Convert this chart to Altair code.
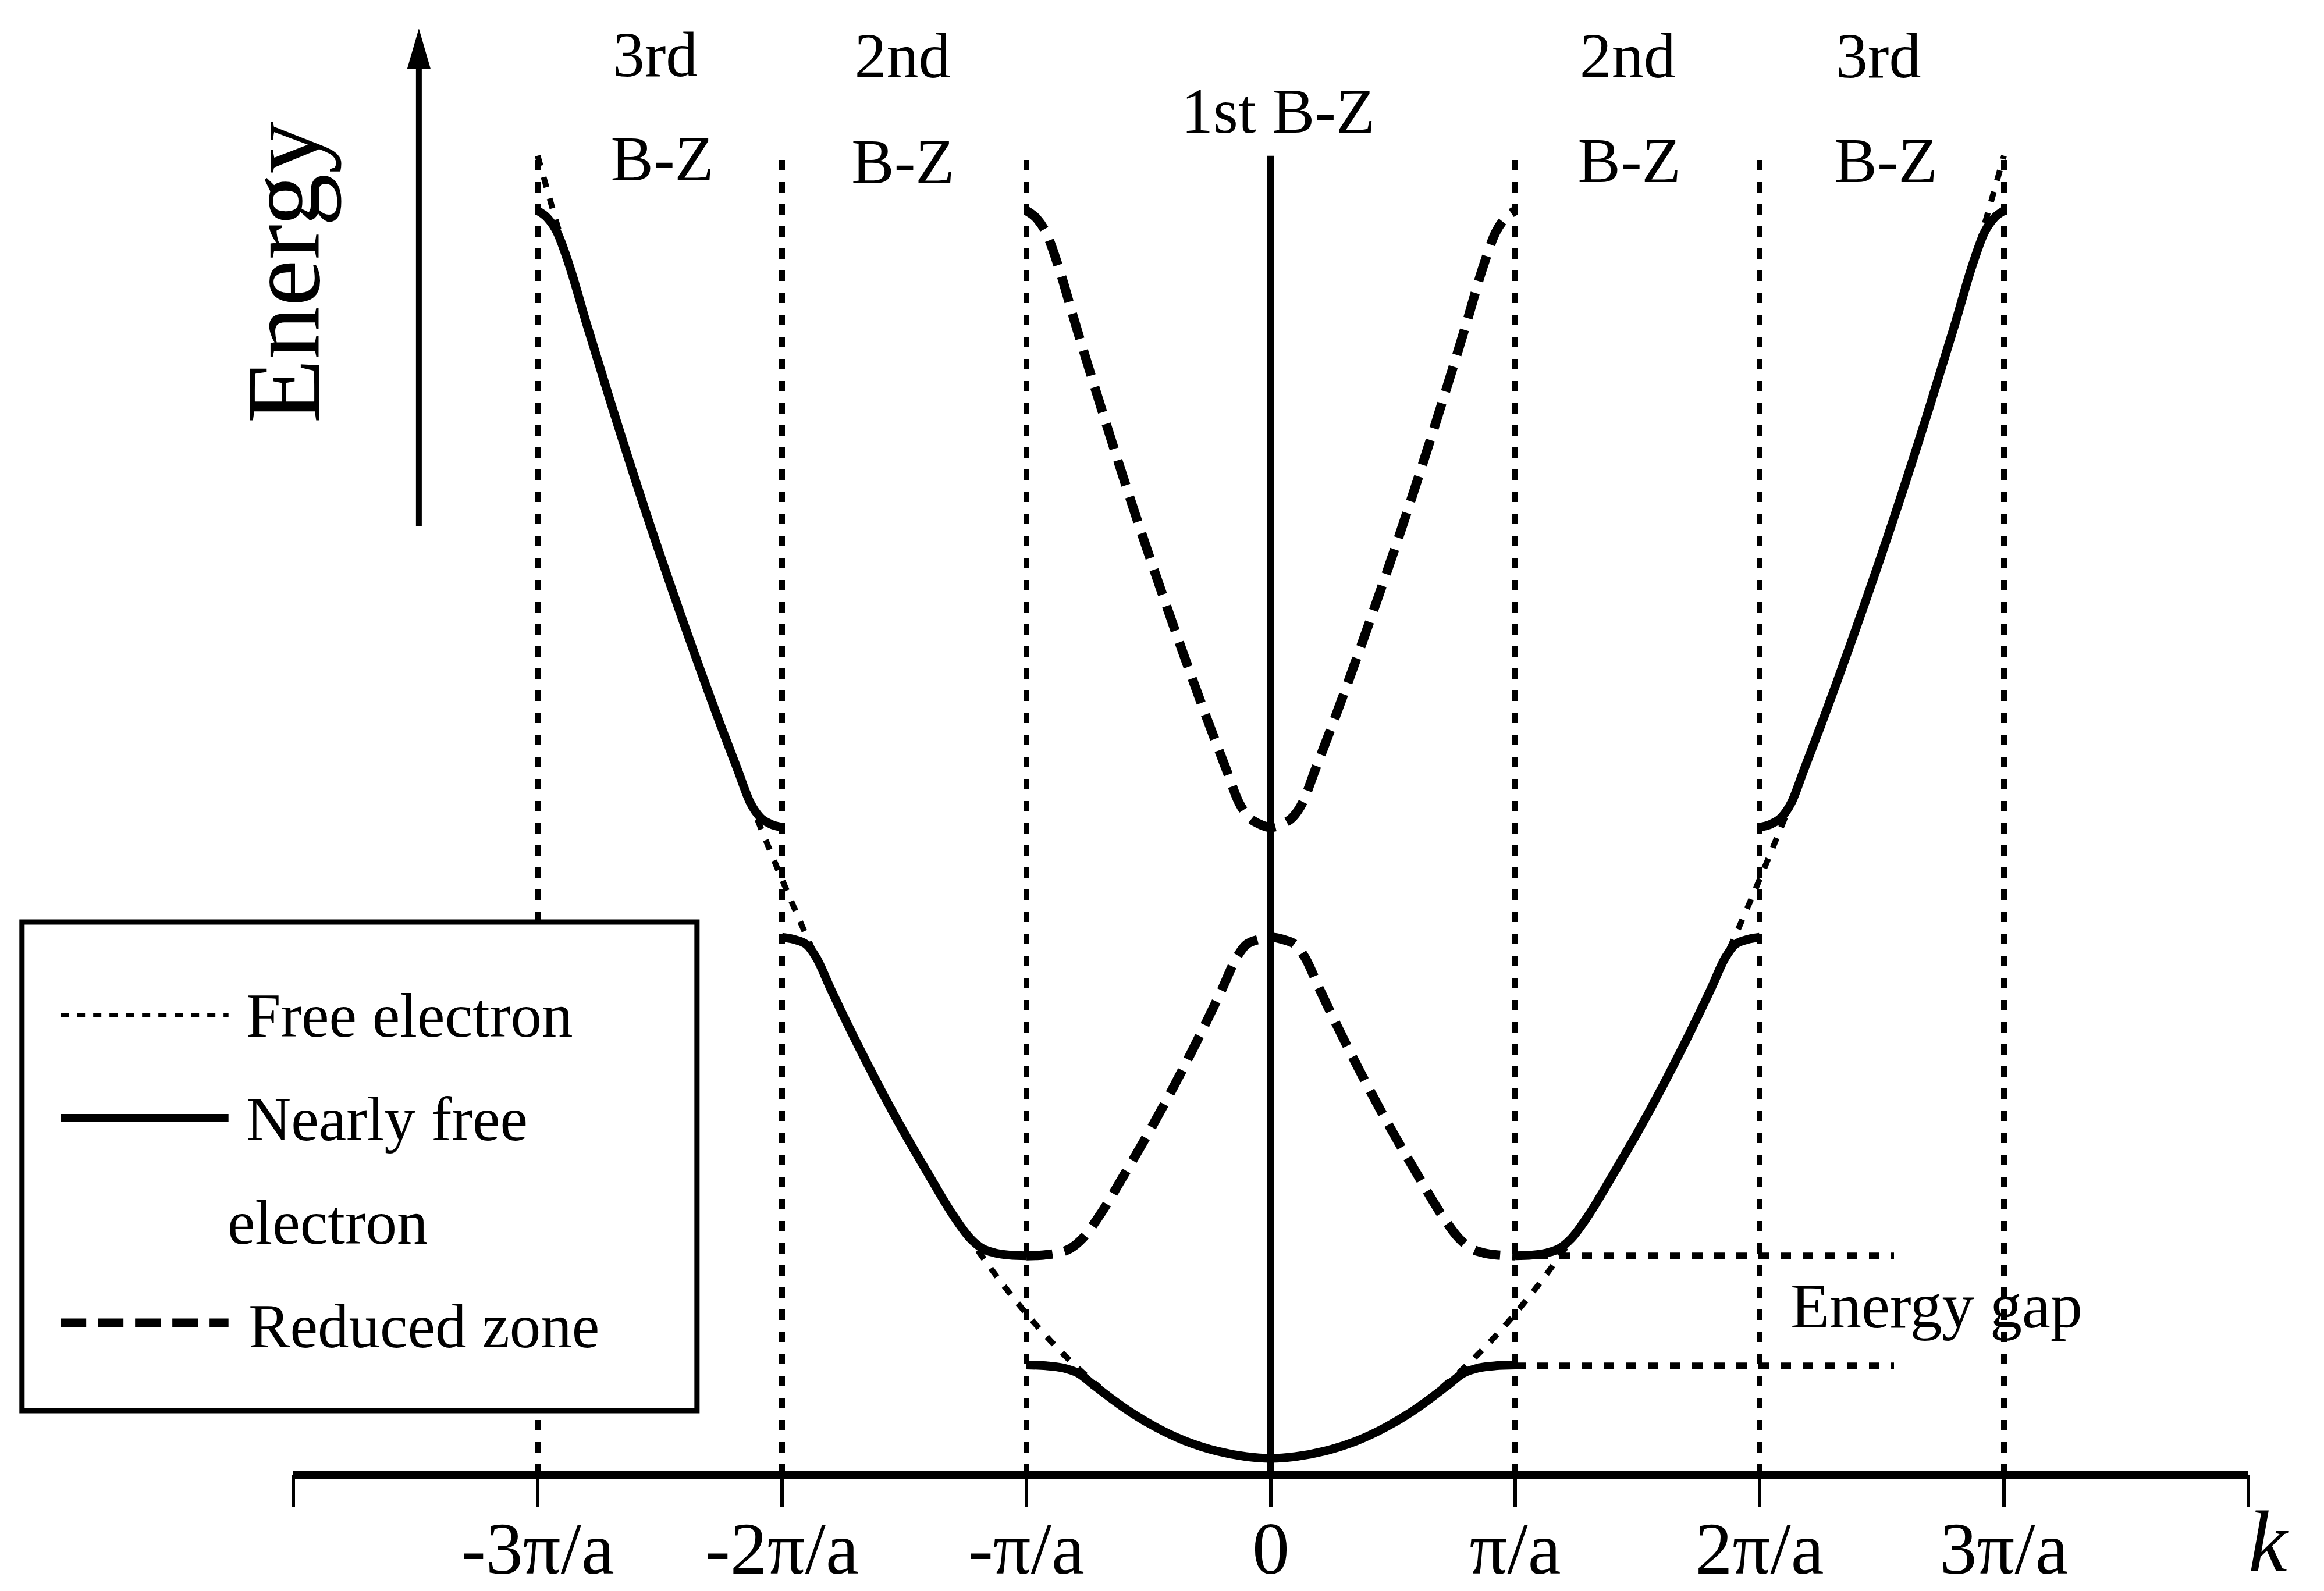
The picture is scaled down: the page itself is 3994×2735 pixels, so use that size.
import altair as alt
import pandas as pd

# ---------------- data (k in units of pi/a, E in units of E_free(pi/a)) ----------------
x_ticks = [-4, -3, -2, -1, 0, 1, 2, 3, 4]
x_tick_labels = ["", "-3π/a", "-2π/a", "-π/a", "0", "π/a", "2π/a", "3π/a", ""]

zone_boundaries = [-3, -2, -1, 1, 2, 3]
boundary_top = 9.0
axis_bottom = -0.1125
tick_end = -0.334
tick_label_E = -0.796

# free electron parabola, visible parts near the zone boundaries (right half, mirrored)
free_k_near_1 = [0.7, 0.8, 0.9, 1.0, 1.1, 1.2, 1.3]
free_E_near_1 = [0.49, 0.64, 0.81, 1.0, 1.21, 1.44, 1.69]
free_k_near_2 = [1.8, 1.9, 2.0, 2.1, 2.2]
free_E_near_2 = [3.24, 3.61, 4.0, 4.41, 4.84]
free_k_near_3 = [2.82, 2.88, 2.94, 3.0]
free_E_near_3 = [7.95, 8.29, 8.64, 9.0]

# nearly free electron, extended zone
band1_k = [-1.0, -0.92, -0.85, -0.79, -0.72, -0.65, -0.57, -0.47, -0.35, -0.22, -0.1, 0.0,
           0.1, 0.22, 0.35, 0.47, 0.57, 0.65, 0.72, 0.79, 0.85, 0.92, 1.0]
band1_E = [0.645, 0.64, 0.625, 0.59, 0.5, 0.41, 0.315, 0.215, 0.12, 0.05, 0.012, 0.0,
           0.012, 0.05, 0.12, 0.215, 0.315, 0.41, 0.5, 0.59, 0.625, 0.64, 0.645]
band2_k = [1.0, 1.07, 1.13, 1.18, 1.23, 1.3, 1.4, 1.5, 1.6, 1.7, 1.8, 1.86, 1.9, 1.95, 2.0]
band2_E = [1.40, 1.405, 1.42, 1.45, 1.52, 1.68, 1.96, 2.25, 2.56, 2.89, 3.24, 3.46, 3.55, 3.585, 3.6]
band3_k = [2.0, 2.05, 2.09, 2.13, 2.18, 2.25, 2.4, 2.55, 2.7, 2.8, 2.87, 2.92, 2.96, 3.0]
band3_E = [4.36, 4.385, 4.43, 4.53, 4.75, 5.06, 5.76, 6.50, 7.29, 7.84, 8.24, 8.47, 8.57, 8.62]

# reduced zone (dashed)
reduced2_k = [-1.0, -0.93, -0.87, -0.82, -0.77, -0.7, -0.6, -0.5, -0.4, -0.3, -0.2, -0.14, -0.1, -0.05,
              0.0, 0.05, 0.1, 0.14, 0.2, 0.3, 0.4, 0.5, 0.6, 0.7, 0.77, 0.82, 0.87, 0.93, 1.0]
reduced2_E = [1.40, 1.405, 1.42, 1.45, 1.52, 1.68, 1.96, 2.25, 2.56, 2.89, 3.24, 3.46, 3.55, 3.585,
              3.6, 3.585, 3.55, 3.46, 3.24, 2.89, 2.56, 2.25, 1.96, 1.68, 1.52, 1.45, 1.42, 1.405, 1.40]
reduced3_k = [-1.0, -0.96, -0.92, -0.87, -0.8, -0.7, -0.55, -0.4, -0.25, -0.18, -0.13, -0.09, -0.05,
              0.0, 0.05, 0.09, 0.13, 0.18, 0.25, 0.4, 0.55, 0.7, 0.8, 0.87, 0.92, 0.96, 1.0]
reduced3_E = [8.62, 8.57, 8.47, 8.24, 7.84, 7.29, 6.50, 5.76, 5.06, 4.75, 4.53, 4.43, 4.385,
              4.36, 4.385, 4.43, 4.53, 4.75, 5.06, 5.76, 6.50, 7.29, 7.84, 8.24, 8.47, 8.57, 8.62]

# energy gap guide lines
gap_levels = [0.64, 1.40]
gap_k_start = 1.0
gap_k_end = 2.55

# zone labels
zone_texts = ["3rd", "B-Z", "2nd", "B-Z", "1st B-Z", "2nd", "B-Z", "3rd", "B-Z"]
zone_text_k = [-2.519, -2.49, -1.507, -1.505, 0.03, 1.46, 1.467, 2.486, 2.517]
zone_text_E = [9.55, 8.83, 9.54, 8.81, 9.16, 9.54, 8.82, 9.54, 8.82]

# legend
legend_box = {"k1": -5.11, "k2": -2.348, "E1": 0.33, "E2": 3.706}
legend_line_k1 = -4.952
legend_line_k2 = -4.265
legend_line_E = [3.063, 2.351, 0.936]
legend_texts = ["Free electron", "Nearly free", "electron", "Reduced zone"]
legend_text_k = [-4.193, -4.193, -4.269, -4.183]
legend_text_E = [2.914, 2.199, 1.483, 0.768]

# energy arrow & labels
arrow_k = -3.486
arrow_E_bottom = 6.443
arrow_E_top = 9.62
arrow_head_E = 9.74
energy_label = ("Energy", -3.895, 8.195)
gap_label = ("Energy gap", 2.126, 0.904)
k_label = ("k", 4.079, -0.78)

# ---------------- build tables ----------------
def mirror_rows(ks, es, seg):
    rows = [{"k": k, "E": e, "seg": seg + "_R"} for k, e in zip(ks, es)]
    rows += [{"k": -k, "E": e, "seg": seg + "_L"} for k, e in zip(ks, es)]
    return rows

free_df = pd.DataFrame(
    mirror_rows(free_k_near_1, free_E_near_1, "f1")
    + mirror_rows(free_k_near_2, free_E_near_2, "f2")
    + mirror_rows(free_k_near_3, free_E_near_3, "f3")
)
solid_df = pd.DataFrame(
    [{"k": k, "E": e, "seg": "b1"} for k, e in zip(band1_k, band1_E)]
    + mirror_rows(band2_k, band2_E, "b2")
    + mirror_rows(band3_k, band3_E, "b3")
)
reduced_df = pd.DataFrame(
    [{"k": k, "E": e, "seg": "r2"} for k, e in zip(reduced2_k, reduced2_E)]
    + [{"k": k, "E": e, "seg": "r3"} for k, e in zip(reduced3_k, reduced3_E)]
)
bound_df = pd.DataFrame({"k": zone_boundaries, "lo": [axis_bottom] * len(zone_boundaries),
                         "hi": [boundary_top] * len(zone_boundaries)})
center_df = pd.DataFrame({"k": [0], "lo": [axis_bottom], "hi": [boundary_top]})
gap_df = pd.DataFrame({"k1": [gap_k_start] * 2, "k2": [gap_k_end] * 2, "E": gap_levels})
zone_df = pd.DataFrame({"t": zone_texts, "k": zone_text_k, "E": zone_text_E})
box_df = pd.DataFrame([legend_box])
leg_lines = [pd.DataFrame({"k1": [legend_line_k1], "k2": [legend_line_k2], "E": [e]}) for e in legend_line_E]
leg_text_df = pd.DataFrame({"t": legend_texts, "k": legend_text_k, "E": legend_text_E})
arrow_df = pd.DataFrame({"k": [arrow_k], "lo": [arrow_E_bottom], "hi": [arrow_E_top]})
head_df = pd.DataFrame({"k": [arrow_k], "E": [arrow_head_E]})
energy_df = pd.DataFrame({"t": [energy_label[0]], "k": [energy_label[1]], "E": [energy_label[2]]})
gaplab_df = pd.DataFrame({"t": [gap_label[0]], "k": [gap_label[1]], "E": [gap_label[2]]})
klab_df = pd.DataFrame({"t": [k_label[0]], "k": [k_label[1]], "E": [k_label[2]]})
axis_line_df = pd.DataFrame({"k1": [x_ticks[0]], "k2": [x_ticks[-1]], "E": [axis_bottom]})
tick_df = pd.DataFrame({"k": x_ticks, "lo": [tick_end] * len(x_ticks), "hi": [axis_bottom] * len(x_ticks),
                        "lab": x_tick_labels, "labE": [tick_label_E] * len(x_ticks)})

# ---------------- scales ----------------
xs = alt.Scale(domain=[-4, 4], nice=False, zero=False)
ys = alt.Scale(domain=[axis_bottom, 10.076], nice=False, zero=False)

def X(field):
    return alt.X(field, type="quantitative", scale=xs, axis=None)

def Y(field):
    return alt.Y(field, type="quantitative", scale=ys, axis=None)

FONT = "Liberation Serif"
DOT = [18, 20]

bounds = alt.Chart(bound_df).mark_rule(color="black", strokeWidth=10, strokeDash=DOT).encode(
    x=X("k"), y=Y("lo"), y2="hi")
center = alt.Chart(center_df).mark_rule(color="black", strokeWidth=12).encode(
    x=X("k"), y=Y("lo"), y2="hi")
free = alt.Chart(free_df).mark_line(color="black", strokeWidth=10, strokeDash=DOT,
                                    interpolate="monotone").encode(
    x=X("k"), y=Y("E"), detail="seg")
solid = alt.Chart(solid_df).mark_line(color="black", strokeWidth=15,
                                      interpolate="monotone").encode(
    x=X("k"), y=Y("E"), detail="seg")
reduced = alt.Chart(reduced_df).mark_line(color="black", strokeWidth=16, strokeDash=[45, 21],
                                          interpolate="monotone").encode(
    x=X("k"), y=Y("E"), detail="seg")
gaps = alt.Chart(gap_df).mark_rule(color="black", strokeWidth=11, strokeDash=DOT).encode(
    x=X("k1"), x2="k2", y=Y("E"))
axis_line = alt.Chart(axis_line_df).mark_rule(color="black", strokeWidth=14).encode(
    x=X("k1"), x2="k2", y=Y("E"))
ticks = alt.Chart(tick_df).mark_rule(color="black", strokeWidth=6).encode(
    x=X("k"), y=Y("lo"), y2="hi")
tick_labels = alt.Chart(tick_df).mark_text(font=FONT, fontSize=128, color="black", align="center",
                                           baseline="alphabetic").encode(
    x=X("k"), y=Y("labE"), text="lab")
zones = alt.Chart(zone_df).mark_text(font=FONT, fontSize=110, color="black", align="center",
                                     baseline="alphabetic").encode(
    x=X("k"), y=Y("E"), text="t")
box = alt.Chart(box_df).mark_rect(fill="white", stroke="black", strokeWidth=9).encode(
    x=X("k1"), x2="k2", y=Y("E1"), y2="E2")
leg1 = alt.Chart(leg_lines[0]).mark_rule(color="black", strokeWidth=8, strokeDash=[14, 14]).encode(
    x=X("k1"), x2="k2", y=Y("E"))
leg2 = alt.Chart(leg_lines[1]).mark_rule(color="black", strokeWidth=14).encode(
    x=X("k1"), x2="k2", y=Y("E"))
leg3 = alt.Chart(leg_lines[2]).mark_rule(color="black", strokeWidth=15, strokeDash=[44, 20]).encode(
    x=X("k1"), x2="k2", y=Y("E"))
leg_text = alt.Chart(leg_text_df).mark_text(font=FONT, fontSize=107, color="black", align="left",
                                            baseline="alphabetic").encode(
    x=X("k"), y=Y("E"), text="t")
arrow = alt.Chart(arrow_df).mark_rule(color="black", strokeWidth=10).encode(
    x=X("k"), y=Y("lo"), y2="hi")
head = alt.Chart(head_df).mark_point(shape="M0,-1L0.58,1L-0.58,1Z", size=4761, filled=True,
                                     color="black", opacity=1).encode(
    x=X("k"), y=Y("E"))
energy = alt.Chart(energy_df).mark_text(font=FONT, fontSize=181, color="black", align="center",
                                        baseline="alphabetic", angle=270).encode(
    x=X("k"), y=Y("E"), text="t")
gaplab = alt.Chart(gaplab_df).mark_text(font=FONT, fontSize=110, color="black", align="left",
                                        baseline="alphabetic").encode(
    x=X("k"), y=Y("E"), text="t")
klab = alt.Chart(klab_df).mark_text(font=FONT, fontSize=150, fontStyle="italic", color="black",
                                    align="center", baseline="alphabetic").encode(
    x=X("k"), y=Y("E"), text="t")

chart = alt.layer(
    bounds, center, free, solid, reduced, gaps, axis_line, ticks, tick_labels, zones,
    box, leg1, leg2, leg3, leg_text, arrow, head, energy, gaplab, klab
).properties(
    width=3360, height=2535,
    autosize=alt.AutoSizeParams(type="none"),
    padding={"left": 504, "top": 0, "right": 130, "bottom": 200},
    background="white",
).configure_view(stroke=None)

chart.save("out.html", embed_options={"renderer": "svg", "actions": False})
